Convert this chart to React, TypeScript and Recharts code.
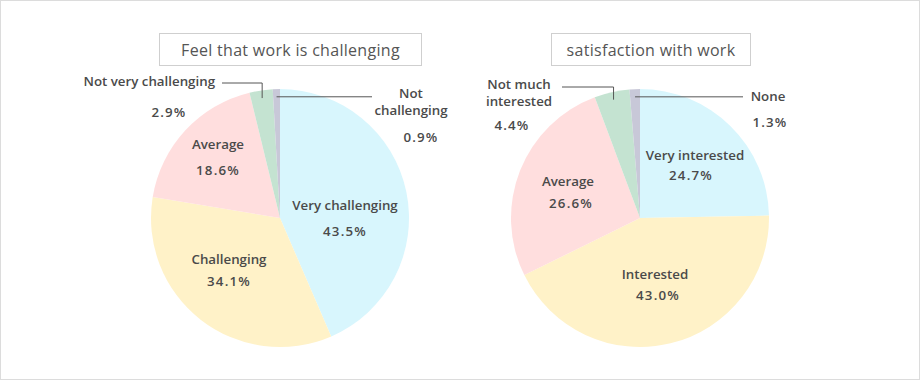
import { PieChart, Pie, Cell } from "recharts";

const challengeNames = ["Very challenging", "Challenging", "Average", "Not very challenging", "Not challenging"];
const challengeValues = [43.5, 34.1, 18.6, 2.9, 0.9];
const satisfactionNames = ["Very interested", "Interested", "Average", "Not much interested", "None"];
const satisfactionValues = [24.7, 43.0, 26.6, 4.4, 1.3];
const sliceColors = ["#d8f6fd", "#fff2c8", "#ffdede", "#c4e3d1", "#c8c8d8"];

const FONT = "'Open Sans', 'Noto Sans', sans-serif";
const INK = "#4a4a4a";

// label layout, offsets from pie centre
type Spot = {
  name: [number, number];
  pct: [number, number];
  anchor?: "start" | "middle" | "end";
  wrap?: boolean;
  leader?: { ex: number; ey?: number };
};

const challengeSpots: Spot[] = [
  { name: [65, -8], pct: [65, 18] },
  { name: [-51, 46], pct: [-51, 68] },
  { name: [-62, -69], pct: [-62, -43] },
  { name: [-65, -132], pct: [-111, -101], anchor: "end", leader: { ex: -58, ey: -135 } },
  { name: [131, -120], pct: [141, -76], wrap: true, leader: { ex: 92 } },
];

const satisfactionSpots: Spot[] = [
  { name: [55, -58], pct: [51, -38] },
  { name: [15, 61], pct: [18, 82] },
  { name: [-72, -32], pct: [-69, -10] },
  { name: [-121, -129], pct: [-128, -88], wrap: true, leader: { ex: -78, ey: -131 } },
  { name: [128, -117], pct: [130, -91], leader: { ex: 103 } },
];

const toRows = (names: string[], values: number[]) =>
  names.map((name, i) => ({ name, value: values[i] }));

const RAD = Math.PI / 180;

function makeLabel(names: string[], spots: Spot[]) {
  return (p: any) => {
    const { cx, cy, midAngle, outerRadius, index, value } = p;
    const s = spots[index];
    const name = names[index];
    const lines = s.wrap
      ? [name.slice(0, name.lastIndexOf(" ")), name.slice(name.lastIndexOf(" ") + 1)]
      : [name];
    const anchor = s.anchor ?? "middle";
    let leader = null;
    if (s.leader) {
      const r = outerRadius * 0.94;
      const sx = cx + r * Math.cos(-midAngle * RAD);
      const sy = cy + r * Math.sin(-midAngle * RAD);
      const ex = cx + s.leader.ex;
      const pts =
        s.leader.ey !== undefined
          ? `${sx},${sy} ${sx},${cy + s.leader.ey} ${ex},${cy + s.leader.ey}`
          : `${sx},${sy} ${ex},${sy}`;
      leader = <polyline points={pts} fill="none" stroke="#555" strokeWidth={1} />;
    }
    return (
      <g key={`l-${index}`}>
        {leader}
        {lines.map((t, j) => (
          <text
            key={j}
            x={cx + s.name[0]}
            y={cy + s.name[1] + j * 17}
            textAnchor={anchor}
            fill={INK}
            fontSize={13.3}
            fontWeight={600}
            fontFamily={FONT}
          >
            {t}
          </text>
        ))}
        <text
          x={cx + s.pct[0]}
          y={cy + s.pct[1]}
          textAnchor="middle"
          fill={INK}
          fontSize={13.3}
          fontWeight={600}
          fontFamily={FONT}
          letterSpacing={1.2}
        >
          {`${Number(value).toFixed(1)}%`}
        </text>
      </g>
    );
  };
}

const titleStyle = (left: number, width: number): React.CSSProperties => ({
  position: "absolute",
  left,
  top: 33,
  width,
  height: 33,
  boxSizing: "border-box",
  border: "1px solid #cfcfcf",
  display: "flex",
  alignItems: "center",
  justifyContent: "center",
  fontFamily: FONT,
  fontSize: 16,
  color: "#555",
  letterSpacing: 0.3,
});

export default function App() {
  return (
    <div style={{ position: "absolute", left: 0, top: 0, width: 920, height: 380, background: "#fff" }}>
      <PieChart width={920} height={380} margin={{ top: 0, right: 0, bottom: 0, left: 0 }}>
        <Pie
          data={toRows(challengeNames, challengeValues)}
          dataKey="value"
          cx={280}
          cy={218}
          outerRadius={129}
          startAngle={90}
          endAngle={-270}
          stroke="none"
          labelLine={false}
          label={makeLabel(challengeNames, challengeSpots)}
          isAnimationActive={false}
        >
          {challengeValues.map((_, i) => (
            <Cell key={i} fill={sliceColors[i]} />
          ))}
        </Pie>
        <Pie
          data={toRows(satisfactionNames, satisfactionValues)}
          dataKey="value"
          cx={640}
          cy={218}
          outerRadius={129}
          startAngle={90}
          endAngle={-270}
          stroke="none"
          labelLine={false}
          label={makeLabel(satisfactionNames, satisfactionSpots)}
          isAnimationActive={false}
        >
          {satisfactionValues.map((_, i) => (
            <Cell key={i} fill={sliceColors[i]} />
          ))}
        </Pie>
      </PieChart>
      <div style={titleStyle(159, 263)}>Feel that work is challenging</div>
      <div style={titleStyle(551, 200)}>satisfaction with work</div>
      <div
        style={{
          position: "absolute",
          inset: 0,
          border: "1px solid #dcdcdc",
          boxSizing: "border-box",
          pointerEvents: "none",
        }}
      />
    </div>
  );
}
